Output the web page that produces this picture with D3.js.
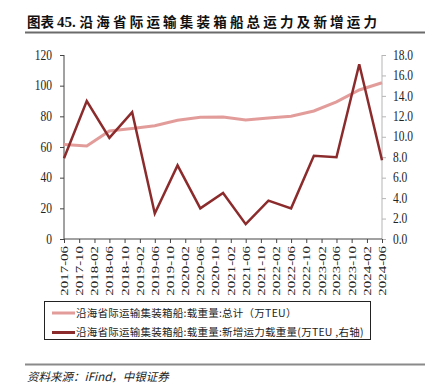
<!DOCTYPE html>
<html>
<head>
<meta charset="utf-8">
<script src="https://cdn.jsdelivr.net/npm/d3@7"></script>
<style>
  body { margin: 0; background: #fff; }
  svg { display: block; }
</style>
</head>
<body>
<div class="chart"></div>
<script>
// data (semi-annual points, ticks every 4 months)
var dates = ["2017-06", "2017-12", "2018-06", "2018-12", "2019-06", "2019-12", "2020-06", "2020-12",
  "2021-06", "2021-12", "2022-06", "2022-12", "2023-06", "2023-12", "2024-06"];
var totalCap = [61.7, 60.6, 70.4, 72.0, 73.9, 77.4, 79.4, 79.5, 77.6, 78.9, 80.0, 83.5, 89.5, 97.2, 101.9];
var newCap = [7.9, 13.5, 9.9, 12.4, 2.5, 7.2, 3.0, 4.5, 1.45, 3.75, 3.0, 8.15, 8.0, 17.1, 7.7];
var xTickLabels = ["2017-06", "2017-10", "2018-02", "2018-06", "2018-10", "2019-02", "2019-06", "2019-10",
  "2020-02", "2020-06", "2020-10", "2021-02", "2021-06", "2021-10", "2022-02", "2022-06", "2022-10",
  "2023-02", "2023-06", "2023-10", "2024-02", "2024-06"];
var leftTicks = [0, 20, 40, 60, 80, 100, 120];
var rightTicks = [0, 2, 4, 6, 8, 10, 12, 14, 16, 18];
var seriesNames = ["沿海省际运输集装箱船:载重量:总计（万TEU）", "沿海省际运输集装箱船:载重量:新增运力载重量(万TEU ,右轴)"];

var parse = d3.timeParse("%Y-%m");
var pinkColor = "#e29d9b";
var darkColor = "#8c2b2c";
var serif = "'Liberation Serif', 'Times New Roman', serif";

var svgWidth = 432, svgHeight = 390;
var plot = { left: 64, right: 382, top: 55, bottom: 239 };

var svg = d3.select(".chart").append("svg")
  .attr("width", svgWidth)
  .attr("height", svgHeight);

svg.append("rect").attr("width", svgWidth).attr("height", svgHeight).attr("fill", "#fff");

// title
var title = svg.append("text")
  .attr("x", 27).attr("y", 27)
  .attr("font-family", "'Noto Sans CJK SC', sans-serif")
  .attr("font-weight", "bold")
  .attr("font-size", 13.5)
  .attr("fill", "#111");
title.append("tspan").text("图表 ");
title.append("tspan").attr("font-family", serif).attr("font-size", 15).text("45. ");
title.append("tspan").attr("letter-spacing", 3.2).text("沿海省际运输集装箱船总运力及新增运力");

svg.append("line").attr("x1", 25).attr("x2", 425).attr("y1", 32.5).attr("y2", 32.5)
  .attr("stroke", "#6b6b6b").attr("stroke-width", 2);

// scales
var x = d3.scaleTime().domain([parse("2017-06"), parse("2024-06")]).range([plot.left, plot.right]);
var yL = d3.scaleLinear().domain([0, 120]).range([plot.bottom, plot.top]);
var yR = d3.scaleLinear().domain([0, 18]).range([plot.bottom, plot.top]);

var xTicks = xTickLabels.map(parse);

// axes
var leftAxis = d3.axisLeft(yL).tickValues(leftTicks).tickSize(4).tickPadding(8);
var rightAxis = d3.axisRight(yR).tickValues(rightTicks).tickSize(4).tickPadding(7).tickFormat(d3.format(".1f"));
var bottomAxis = d3.axisBottom(x).tickValues(xTicks).tickSize(4).tickFormat(d3.timeFormat("%Y-%m"));

var gL = svg.append("g").attr("transform", "translate(" + plot.left + ",0)").call(leftAxis);
gL.select(".domain").attr("stroke", "#444").attr("d", "M0," + plot.top + "V" + plot.bottom);
gL.selectAll(".tick line").attr("stroke", "#444");
gL.selectAll(".tick text").attr("font-family", serif).attr("fill", "#222")
  .attr("font-size", 11.5).attr("transform", "scale(1,1.3)").attr("dy", "0.28em");

var gR = svg.append("g").attr("transform", "translate(" + plot.right + ",0)").call(rightAxis);
gR.select(".domain").attr("stroke", "#b5b5b5").attr("d", "M0," + plot.top + "V" + plot.bottom);
gR.selectAll(".tick line").attr("stroke", "#b5b5b5");
gR.selectAll(".tick text").attr("font-family", serif).attr("fill", "#222")
  .attr("font-size", 11.5).attr("transform", "scale(1,1.3)").attr("dy", "0.28em");

var gB = svg.append("g").attr("transform", "translate(0," + plot.bottom + ")").call(bottomAxis);
gB.select(".domain").attr("stroke", "#444").attr("d", "M" + plot.left + ",0H" + plot.right);
gB.selectAll(".tick line").attr("stroke", "#444");
gB.selectAll(".tick text")
  .attr("font-family", serif).attr("fill", "#222")
  .attr("font-size", 10.5)
  .attr("text-anchor", "end")
  .attr("x", 0).attr("y", 0)
  .attr("dy", "0.33em")
  .attr("transform", "translate(0,7) rotate(-90) scale(1.42,1)");

// lines
var pts = dates.map(parse);
var linePink = d3.line().x(function(d, i) { return x(pts[i]); }).y(function(d) { return yL(d); });
var lineDark = d3.line().x(function(d, i) { return x(pts[i]); }).y(function(d) { return yR(d); });

svg.append("path").datum(totalCap).attr("d", linePink)
  .attr("fill", "none").attr("stroke", pinkColor).attr("stroke-width", 3);
svg.append("path").datum(newCap).attr("d", lineDark)
  .attr("fill", "none").attr("stroke", darkColor).attr("stroke-width", 2.5).attr("stroke-linejoin", "miter");

// legend
var legend = svg.append("g");
legend.append("rect").attr("x", 44.5).attr("y", 301.5).attr("width", 326).attr("height", 38)
  .attr("fill", "#fff").attr("stroke", "#222").attr("stroke-width", 1);
[pinkColor, darkColor].forEach(function(c, i) {
  var ly = 313 + i * 19.5;
  legend.append("line").attr("x1", 52).attr("x2", 75).attr("y1", ly).attr("y2", ly)
    .attr("stroke", c).attr("stroke-width", 3);
  legend.append("text").attr("x", 76).attr("y", ly).attr("dy", "0.36em")
    .attr("font-family", "'Noto Sans CJK SC', sans-serif")
    .attr("font-size", 10.5).attr("fill", "#222")
    .attr("letter-spacing", 0.25)
    .text(seriesNames[i]);
});

// source
svg.append("line").attr("x1", 25).attr("x2", 425).attr("y1", 364.5).attr("y2", 364.5)
  .attr("stroke", "#8a8a8a").attr("stroke-width", 2);
svg.append("text").attr("x", 27).attr("y", 381)
  .attr("font-family", "'Noto Sans CJK SC', sans-serif")
  .attr("font-style", "italic").attr("font-size", 11.5).attr("fill", "#222")
  .text("资料来源：iFind，中银证券");
</script>
</body>
</html>
